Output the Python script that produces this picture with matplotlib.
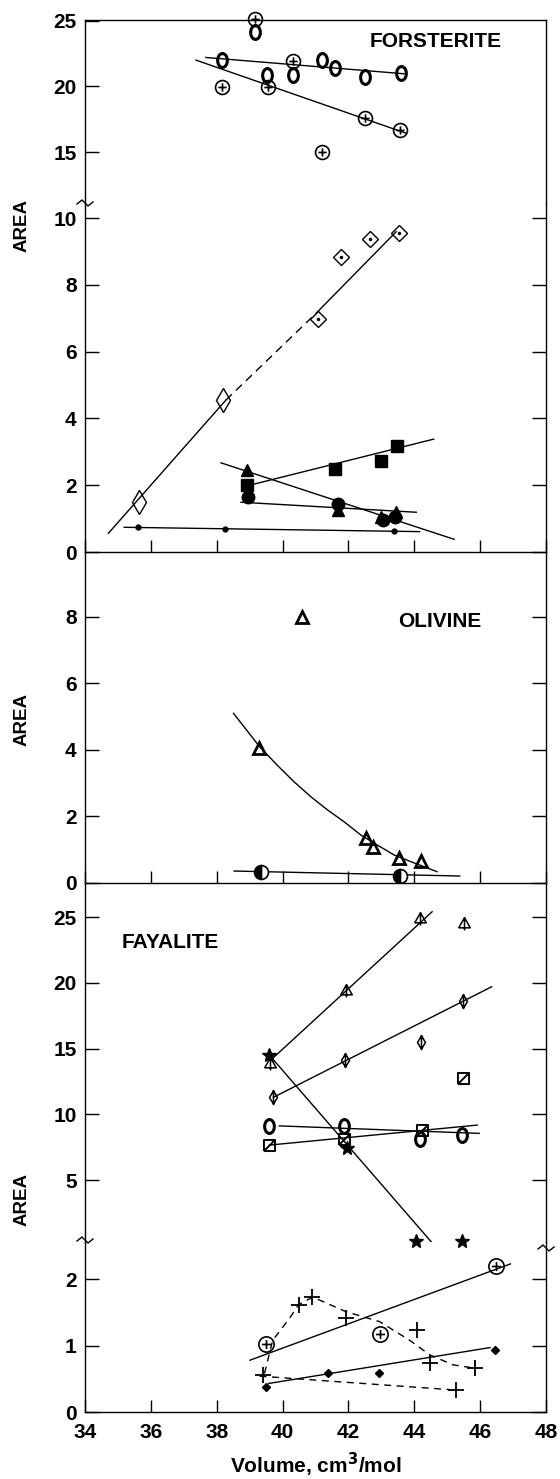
import numpy as np
import matplotlib.pyplot as plt
from matplotlib.path import Path
from matplotlib.transforms import Affine2D

plt.rcParams['font.family'] = ['Liberation Sans', 'DejaVu Sans']
plt.rcParams['font.weight'] = 'bold'
plt.rcParams['axes.labelweight'] = 'bold'

# ---------------- FORSTERITE, upper part (area 11-25)
fo_oval_x = [38.15, 39.53, 40.31, 41.19, 41.58, 42.49, 43.61, 39.16]
fo_oval_y = [22.0, 20.87, 20.87, 22.0, 21.4, 20.7, 21.0, 24.15]
fo_oval_fit_x = [37.67, 43.76]
fo_oval_fit_y = [22.2, 20.95]
fo_cross_x = [39.16, 38.15, 39.55, 40.31, 42.49, 43.56, 41.19]
fo_cross_y = [25.1, 19.94, 19.94, 21.9, 17.6, 16.7, 15.06]
fo_cross_fit_x = [37.37, 43.76]
fo_cross_fit_y = [22.0, 16.45]

# ---------------- FORSTERITE, lower part (area 0-10)
fo_dia_x = [35.64, 38.2]
fo_dia_y = [1.51, 4.55]
fo_dotdia_x = [41.07, 41.78, 42.64, 43.54]
fo_dotdia_y = [6.97, 8.84, 9.36, 9.56]
fo_dia_fit_x = [34.71, 38.28, 41.02, 43.45]
fo_dia_fit_y = [0.56, 4.55, 7.15, 9.59]
fo_sq_x = [38.92, 41.58, 43.0, 43.47]
fo_sq_y = [2.01, 2.48, 2.73, 3.17]
fo_sq_fit_x = [38.92, 44.59]
fo_sq_fit_y = [1.98, 3.38]
fo_tri_x = [38.92, 41.68, 43.0, 43.45]
fo_tri_y = [2.46, 1.26, 1.05, 1.21]
fo_tri_fit_x = [38.13, 45.21]
fo_tri_fit_y = [2.67, 0.38]
fo_circ_x = [38.96, 41.68, 43.05, 43.4]
fo_circ_y = [1.64, 1.44, 0.96, 1.04]
fo_circ_fit_x = [38.74, 44.06]
fo_circ_fit_y = [1.49, 1.19]
fo_dot_x = [35.62, 38.25, 43.38]
fo_dot_y = [0.76, 0.69, 0.64]
fo_dot_fit_x = [35.19, 44.16]
fo_dot_fit_y = [0.74, 0.61]

# ---------------- OLIVINE
ol_tri_x = [40.58, 39.27, 42.52, 42.74, 43.54, 44.19]
ol_tri_y = [8.01, 4.07, 1.34, 1.07, 0.74, 0.67]
ol_curve_x = [38.51, 39.30, 39.83, 40.34, 40.85, 41.36, 41.87, 42.38, 42.88, 43.39, 43.90, 44.69]
ol_curve_y = [5.10, 4.10, 3.55, 3.05, 2.60, 2.20, 1.84, 1.44, 1.14, 0.84, 0.64, 0.34]
ol_half_x = [39.33, 43.56]
ol_half_y = [0.32, 0.21]
ol_half_fit_x = [38.53, 45.38]
ol_half_fit_y = [0.36, 0.21]

# ---------------- FAYALITE, upper part (area 0.3-27.6)
fa_tri_x = [39.63, 41.93, 44.16, 45.5]
fa_tri_y = [13.87, 19.49, 24.9, 24.57]
fa_tri_fit_x = [39.7, 44.54]
fa_tri_fit_y = [14.26, 25.4]
fa_dia_x = [39.72, 41.91, 44.19, 45.48]
fa_dia_y = [11.29, 14.13, 15.52, 18.61]
fa_dia_fit_x = [39.72, 46.35]
fa_dia_fit_y = [11.29, 19.7]
fa_star_x = [39.6, 41.95, 44.04, 45.45]
fa_star_y = [14.51, 7.42, 0.4, 0.4]
fa_star_fit_x = [39.6, 44.62]
fa_star_fit_y = [14.5, 0.0]
fa_oval_x = [39.6, 41.86, 44.16, 45.46]
fa_oval_y = [9.12, 9.09, 8.09, 8.42]
fa_oval_fit_x = [39.9, 45.97]
fa_oval_fit_y = [9.12, 8.55]
fa_sq_x = [39.6, 41.86, 44.22, 45.48]
fa_sq_y = [7.66, 8.09, 8.8, 12.73]
fa_sq_fit_x = [39.6, 45.91]
fa_sq_fit_y = [7.66, 9.18]

# ---------------- FAYALITE, lower part (area 0-2.6)
fa_cross_x = [39.5, 42.97, 46.48]
fa_cross_y = [1.03, 1.18, 2.2]
fa_cross_fit_x = [39.01, 46.92]
fa_cross_fit_y = [0.78, 2.23]
fa_plus_x = [39.42, 40.49, 40.89, 41.93, 44.09, 44.47, 45.84, 45.26]
fa_plus_y = [0.55, 1.61, 1.73, 1.41, 1.23, 0.74, 0.66, 0.33]
fa_plus_curve_x = [39.45, 39.7, 40.21, 40.49, 40.92, 41.93, 42.95, 43.86, 44.47, 45.18, 45.84]
fa_plus_curve_y = [0.58, 1.08, 1.41, 1.62, 1.73, 1.51, 1.36, 1.08, 0.86, 0.71, 0.66]
fa_plus_low_x = [39.3, 45.28]
fa_plus_low_y = [0.54, 0.33]
fa_sd_x = [39.5, 41.37, 42.93, 46.45]
fa_sd_y = [0.38, 0.58, 0.59, 0.93]
fa_sd_fit_x = [39.58, 46.3]
fa_sd_fit_y = [0.43, 0.97]

# marker shapes
M, L_ = Path.MOVETO, Path.LINETO
oval = Path.unit_circle().transformed(Affine2D().scale(0.7, 1.0))
plus_in = Path([(-0.6, 0), (0.6, 0), (0, -0.6), (0, 0.6)], [M, L_, M, L_])
cross_circ = Path.make_compound_path(Path.unit_circle(), plus_in)
tri_bar = Path([(-1, -0.75), (1, -0.75), (0, 1), (-1, -0.75), (0, 1), (0, -1.2)],
               [M, L_, L_, L_, M, L_])
dia_bar = Path([(0, 1), (0.6, 0), (0, -1), (-0.6, 0), (0, 1), (0, 1.15), (0, -1.15)],
               [M, L_, L_, L_, L_, M, L_])
sq_diag = Path([(-1, -1), (1, -1), (1, 1), (-1, 1), (-1, -1), (-1, -1), (1, 1)],
               [M, L_, L_, L_, L_, M, L_])

LW = 1.0
K = 'black'
open_kw = dict(ls='none', mfc='none', mec=K, clip_on=False)

fig = plt.figure(figsize=(5.6, 14.79), dpi=100)
left, width = 85 / 560, 461 / 560


def frac(py):
    return 1 - py / 1479


def make_ax(top_px, bot_px):
    return fig.add_axes([left, frac(bot_px), width, frac(top_px) - frac(bot_px)])


def style(ax, ylim, yticks, spines, xaxis=False, xlabels=False, right=True):
    ax.set_xlim(34, 48)
    ax.set_ylim(ylim)
    ax.set_yticks(yticks)
    for s in ['top', 'bottom', 'left', 'right']:
        ax.spines[s].set_visible(s in spines)
        ax.spines[s].set_linewidth(1.0)
    ax.tick_params(axis='y', direction='in', length=10, width=1, labelsize=15,
                   pad=6, right=right, left=True)
    if xaxis:
        ax.set_xticks(range(34, 49, 2))
        ax.tick_params(axis='x', direction='in', length=9, width=1, top=False,
                       labelbottom=xlabels, labelsize=15, pad=8)
    else:
        ax.tick_params(axis='x', bottom=False, top=False, labelbottom=False)
    ax.patch.set_alpha(0)


def brk(ypx, side_x):
    xs = side_x + np.array([-8, -3, 0, 3, 8]) / 560
    ys = frac(ypx) + np.array([-1, 3, 0, -3, 1]) / 1479
    fig.add_artist(plt.Line2D(xs, ys, color=K, lw=1.0, transform=fig.transFigure))


# ---- forsterite upper
ax = make_ax(20, 203)
style(ax, (11.17, 25.04), [15, 20, 25], ['top', 'left', 'right'], right=False)
ax.plot(fo_oval_fit_x, fo_oval_fit_y, color=K, lw=LW)
ax.plot(fo_cross_fit_x, fo_cross_fit_y, color=K, lw=LW)
ax.plot(fo_oval_x, fo_oval_y, marker=oval, ms=10, mew=2.2, **open_kw)
ax.plot(fo_cross_x, fo_cross_y, marker=cross_circ, ms=10, mew=1.2, **open_kw)
ax.text(0.618, 0.88, 'FORSTERITE', transform=ax.transAxes, fontsize=15, ha='left', va='center')

# ---- forsterite lower
ax = make_ax(203, 552)
style(ax, (0, 10.45), [0, 2, 4, 6, 8, 10], ['bottom', 'left', 'right'], xaxis=True)
ax.plot(fo_dia_fit_x[:2], fo_dia_fit_y[:2], color=K, lw=LW)
ax.plot(fo_dia_fit_x[1:3], fo_dia_fit_y[1:3], color=K, lw=LW, ls=(0, (6, 4)))
ax.plot(fo_dia_fit_x[2:], fo_dia_fit_y[2:], color=K, lw=LW)
ax.plot(fo_sq_fit_x, fo_sq_fit_y, color=K, lw=LW)
ax.plot(fo_tri_fit_x, fo_tri_fit_y, color=K, lw=LW)
ax.plot(fo_circ_fit_x, fo_circ_fit_y, color=K, lw=LW)
ax.plot(fo_dot_fit_x, fo_dot_fit_y, color=K, lw=LW)
ax.plot(fo_dia_x, fo_dia_y, marker='d', ms=12, mew=1.0, **open_kw)
ax.plot(fo_dotdia_x, fo_dotdia_y, marker='D', ms=8, mew=1.0, **open_kw)
ax.plot(fo_dotdia_x, fo_dotdia_y, ls='none', marker='.', ms=3, color=K)
ax.plot(fo_sq_x, fo_sq_y, ls='none', marker='s', ms=8, color=K)
ax.plot(fo_tri_x, fo_tri_y, ls='none', marker='^', ms=9, color=K)
ax.plot(fo_circ_x, fo_circ_y, ls='none', marker='o', ms=9, color=K)
ax.plot(fo_dot_x, fo_dot_y, ls='none', marker='o', ms=3.5, color=K)
fig.text(22 / 560, frac(225), 'AREA', rotation=90, ha='center', va='center', fontsize=13.5)
brk(203, left)

# ---- olivine
ax = make_ax(552, 883)
style(ax, (0, 9.95), [0, 2, 4, 6, 8], ['bottom', 'left', 'right'], xaxis=True)
ax.plot(ol_curve_x, ol_curve_y, color=K, lw=LW)
ax.plot(ol_half_fit_x, ol_half_fit_y, color=K, lw=LW)
ax.plot(ol_tri_x, ol_tri_y, marker='^', ms=9, mew=2.0, **open_kw)
ax.plot(ol_half_x, ol_half_y, ls='none', marker='o', ms=10, fillstyle='left',
        color=K, mfc=K, mfcalt='white', mew=1.2)
ax.text(0.68, 0.79, 'OLIVINE', transform=ax.transAxes, fontsize=15, ha='left', va='center')
fig.text(22 / 560, frac(720), 'AREA', rotation=90, ha='center', va='center', fontsize=13.5)

# ---- fayalite upper
ax = make_ax(883, 1242)
style(ax, (0.29, 27.59), [5, 10, 15, 20, 25], ['left', 'right'])
ax.plot(fa_tri_fit_x, fa_tri_fit_y, color=K, lw=LW)
ax.plot(fa_dia_fit_x, fa_dia_fit_y, color=K, lw=LW)
ax.plot(fa_star_fit_x, fa_star_fit_y, color=K, lw=LW)
ax.plot(fa_oval_fit_x, fa_oval_fit_y, color=K, lw=LW)
ax.plot(fa_sq_fit_x, fa_sq_fit_y, color=K, lw=LW)
ax.plot(fa_tri_x, fa_tri_y, marker=tri_bar, ms=10, mew=1.1, **open_kw)
ax.plot(fa_dia_x, fa_dia_y, marker=dia_bar, ms=11, mew=1.1, **open_kw)
ax.plot(fa_star_x, fa_star_y, ls='none', marker='*', ms=10, color=K, clip_on=False)
ax.plot(fa_oval_x, fa_oval_y, marker=oval, ms=10, mew=2.2, **open_kw)
ax.plot(fa_sq_x, fa_sq_y, marker=sq_diag, ms=8, mew=1.4, **open_kw)
ax.text(0.08, 0.835, 'FAYALITE', transform=ax.transAxes, fontsize=15, ha='left', va='center')
fig.text(22 / 560, frac(1200), 'AREA', rotation=90, ha='center', va='center', fontsize=13.5)
brk(1240, left)
brk(1248, left + width)

# ---- fayalite lower
ax = make_ax(1242, 1412)
style(ax, (0, 2.56), [0, 1, 2], ['bottom', 'left', 'right'], xaxis=True, xlabels=True)
ax.plot(fa_cross_fit_x, fa_cross_fit_y, color=K, lw=LW)
ax.plot(fa_plus_curve_x, fa_plus_curve_y, color=K, lw=LW, ls=(0, (5, 4)))
ax.plot(fa_plus_low_x, fa_plus_low_y, color=K, lw=LW, ls=(0, (5, 4)))
ax.plot(fa_sd_fit_x, fa_sd_fit_y, color=K, lw=LW)
ax.plot(fa_cross_x, fa_cross_y, marker=cross_circ, ms=11, mew=1.2, **open_kw)
ax.plot(fa_plus_x, fa_plus_y, ls='none', marker='+', ms=12, mew=1.3, color=K)
ax.plot(fa_sd_x, fa_sd_y, ls='none', marker='D', ms=4, color=K)
ax.set_xlabel('Volume, cm$^\\mathbf{3}$/mol', fontsize=15, fontweight='bold', labelpad=6)

fig.savefig('out.png', dpi=100)
